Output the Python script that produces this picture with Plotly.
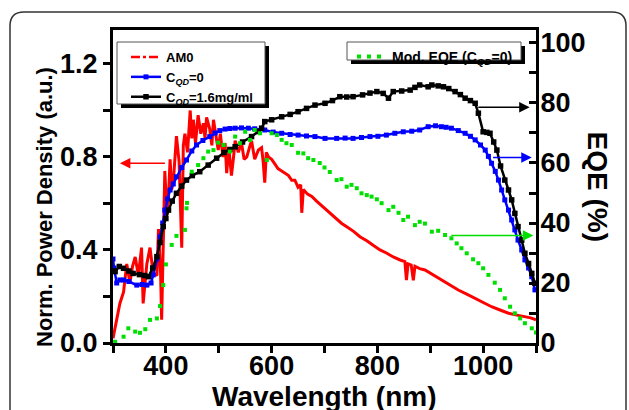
import plotly.graph_objects as go

# ---------------- data ----------------
am0_x = [300, 307, 313, 320, 326, 332, 337, 342, 348, 354, 357, 364, 370, 376, 383, 386, 390, 392, 395,
         398, 402, 405, 408, 411, 414, 417, 420, 425, 430, 433, 436, 441, 446, 449, 452, 456, 461, 466,
         471, 474, 477, 483, 487, 490, 495, 499, 503, 508, 512, 515, 519, 524, 528, 531, 537, 543, 548,
         553, 558, 562, 568, 575, 581, 584, 587, 590, 594, 600, 606, 612, 619, 625, 632, 638, 644, 650,
         655, 657, 660, 668, 676, 685, 695, 704, 713, 723, 732, 742, 755, 767, 780, 792, 805, 818, 830,
         843, 852, 855, 858, 864, 868, 871, 880, 890, 900, 921, 937, 953, 969, 985, 1000, 1016, 1032,
         1048, 1064, 1079, 1090, 1100]
am0_y = [0.02, 0.11, 0.17, 0.22, 0.34, 0.26, 0.33, 0.37, 0.29, 0.41, 0.17, 0.34, 0.41, 0.30, 0.29, 0.49,
         0.30, 0.10, 0.45, 0.74, 0.55, 0.63, 0.79, 0.66, 0.69, 0.80, 0.89, 0.78, 0.41, 0.85, 0.90, 0.82,
         1.00, 0.88, 0.96, 0.86, 0.98, 0.90, 0.945, 0.88, 0.97, 0.92, 0.85, 0.96, 0.88, 0.83, 0.90, 0.80,
         0.86, 0.73, 0.84, 0.72, 0.80, 0.87, 0.82, 0.86, 0.79, 0.80, 0.84, 0.87, 0.79, 0.83, 0.84, 0.78,
         0.69, 0.82, 0.80, 0.79, 0.77, 0.75, 0.74, 0.73, 0.72, 0.70, 0.70, 0.67, 0.68, 0.56, 0.66, 0.64,
         0.63, 0.61, 0.59, 0.57, 0.55, 0.53, 0.515, 0.50, 0.48, 0.457, 0.44, 0.42, 0.40, 0.386, 0.37,
         0.357, 0.35, 0.27, 0.34, 0.335, 0.27, 0.33, 0.32, 0.314, 0.30, 0.27, 0.25, 0.228, 0.21, 0.192,
         0.175, 0.156, 0.142, 0.128, 0.12, 0.113, 0.108, 0.10]

cqd0_x = [300, 302, 307, 313, 320, 330, 345, 355, 364, 372, 376, 383, 389, 394, 398, 403, 408, 414, 420,
          430, 439, 449, 458, 470, 483, 493, 502, 512, 521, 531, 543, 556, 568, 587, 603, 619, 635, 650,
          666, 682, 701, 723, 739, 754, 770, 786, 801, 817, 833, 849, 865, 880, 896, 910, 921, 930, 940,
          953, 966, 976, 985, 995, 1004, 1010, 1016, 1023, 1029, 1035, 1041, 1048, 1054, 1060, 1066,
          1073, 1079, 1086, 1092, 1098]
cqd0_y = [28, 25, 20, 21, 21, 20.5, 19.3, 19.5, 19.3, 20, 22.7, 28, 35.4, 40, 44.3, 48, 51, 53, 55.4,
          58.5, 61, 64, 66, 67.5, 68.8, 70, 70.8, 71.3, 71.5, 71.6, 71.7, 71.6, 71.4, 71, 70.3, 69.9,
          69.5, 69.3, 69, 68.8, 68.2, 68.2, 68.3, 68.2, 68.5, 68.8, 68.9, 69.3, 69.9, 70.4, 70.6, 71,
          72.1, 72.4, 72.1, 71.9, 71.6, 70.8, 69.9, 68.9, 67.7, 66, 64.3, 62.2, 59.9, 57.2, 54.3, 51,
          47.7, 44.3, 41, 37.7, 34.3, 31, 27.7, 25, 22.1, 17.7]

cqd16_x = [300, 304, 312, 320, 330, 338, 350, 360, 367, 375, 383, 389, 395, 400, 405, 412, 420, 430, 439,
           450, 464, 480, 496, 510, 521, 531, 545, 562, 575, 581, 587, 600, 619, 635, 650, 666, 682, 701,
           715, 729, 742, 754, 772, 786, 799, 811, 821, 830, 846, 862, 871, 880, 896, 903, 915, 925, 935,
           947, 957, 966, 976, 985, 991, 1000, 1007, 1013, 1020, 1026, 1033, 1041, 1048, 1054, 1060,
           1066, 1073, 1079, 1086, 1092, 1098]
cqd16_y = [24, 23.8, 25.5, 24.9, 24, 23.2, 22.8, 22.5, 22.1, 25, 28.8, 33.5, 38.8, 41.5, 44.3, 47.3, 49.9,
           52.3, 54.3, 55.8, 57.1, 59.3, 61.6, 63.5, 64.5, 65.4, 67, 68.8, 70.5, 71.6, 73.8, 74.4, 75.4,
           76.2, 77.1, 78.2, 79.3, 79.9, 80.8, 82.1, 82.0, 82.1, 82.7, 83.3, 83.8, 83.2, 81.6, 83.8, 84.0,
           84.3, 85.2, 86, 85.4, 86, 85.7, 85.4, 84.8, 83.8, 82.8, 81.6, 80.8, 79.9, 76.6, 70.4, 70.2,
           69.9, 67, 64.3, 59, 54.3, 51, 47.7, 43.2, 38.8, 34.3, 29.9, 26.5, 23.2, 19.9]

mod_x = [304, 320, 329, 342, 351, 361, 370, 383, 389, 395, 400, 411, 420, 436, 439, 440, 449, 461, 471,
         480, 490, 499, 509, 521, 531, 540, 550, 559, 568, 578, 591, 600, 610, 619, 628, 638, 650, 660,
         669, 679, 691, 700, 710, 723, 732, 742, 751, 761, 770, 780, 789, 799, 808, 821, 830, 840, 849,
         858, 871, 880, 890, 903, 915, 928, 940, 950, 959, 969, 981, 991, 1000, 1010, 1022, 1032, 1041,
         1051, 1060, 1070, 1079, 1092, 1100]
mod_y = [0.4, 2.1, 4.9, 3.8, 3.4, 4.6, 7.7, 8.2, 12.3, 19.3, 26.2, 32.7, 35.7, 37.7, 44.9, 46.7, 57.1,
         59.3, 61.6, 63.8, 64.3, 66.8, 66.0, 63.8, 68.8, 66.6, 70.4, 67.7, 71.0, 69.9, 61.0, 69.9, 69.3,
         67.7, 66.6, 66.0, 63.4, 63.2, 61.6, 61.0, 60.0, 58.5, 57.0, 54.3, 54.6, 52.1, 52.7, 51.6, 49.9,
         49.3, 48.8, 47.9, 46.6, 44.3, 45.4, 43.4, 41.0, 42.1, 39.3, 40.4, 39.8, 37.1, 37.4, 36.0, 34.9,
         33.2, 31.6, 29.9, 27.9, 26.6, 24.9, 22.7, 20.1, 17.7, 14.9, 12.1, 9.9, 8.2, 6.6, 4.9, 3.5]

x_ticks = [400, 600, 800, 1000]
x_minor = [300, 500, 700, 900, 1100]
y_ticks = [0.0, 0.4, 0.8, 1.2]
y_minor = [0.2, 0.6, 1.0]
y2_ticks = [0, 20, 40, 60, 80, 100]
y2_minor = [10, 30, 50, 70, 90]
top_ticks = [1, 2, 3, 4, 5, 6, 7, 8, 9]

# ---------------- geometry helpers ----------------
W, H = 629, 410
ML, MR, MT, MB = 113, 93, 30, 67
PW, PH = W - ML - MR, H - MT - MB


def px(x):
    return (x - ML) / PW


def py(y):
    return (H - MB - y) / PH


RED = "#ff0000"
BLUE = "#0000ff"
BLACK = "#000000"
GREEN = "#00e000"
FONT = "Liberation Sans, Arial, sans-serif"

fig = go.Figure()

fig.add_trace(go.Scatter(x=am0_x, y=am0_y, mode="lines", line=dict(color=RED, width=3),
                         showlegend=False, xaxis="x", yaxis="y"))
fig.add_trace(go.Scatter(x=[None], y=[None], mode="lines", name="AM0",
                         line=dict(color=RED, width=2.5, dash="dashdot"), legend="legend"))
fig.add_trace(go.Scatter(x=cqd0_x, y=cqd0_y, mode="lines+markers", name="C<sub><i>QD</i></sub>=0",
                         line=dict(color=BLUE, width=2.5), marker=dict(symbol="square", size=5, color=BLUE),
                         yaxis="y2", legend="legend"))
fig.add_trace(go.Scatter(x=cqd16_x, y=cqd16_y, mode="lines+markers", name="C<sub><i>QD</i></sub>=1.6mg/ml",
                         line=dict(color=BLACK, width=2.5), marker=dict(symbol="square", size=5.5, color=BLACK),
                         yaxis="y2", legend="legend"))
fig.add_trace(go.Scatter(x=mod_x, y=mod_y, mode="markers", marker=dict(symbol="square", size=4, color=GREEN),
                         showlegend=False, yaxis="y2"))
fig.add_trace(go.Scatter(x=[None], y=[None], mode="lines", name="Mod. EQE (C<sub><i>QD</i></sub>=0)",
                         line=dict(color=GREEN, width=4, dash="4px,6px"), yaxis="y2", legend="legend2"))

axis_common = dict(showline=True, linewidth=3, linecolor="black", ticklen=7, tickwidth=2.5,
                   tickcolor="black", showgrid=False, zeroline=False, automargin=False,
                   tickfont=dict(family=FONT, size=27, color="black", weight="bold"))

fig.update_layout(
    width=W, height=H,
    margin=dict(l=ML, r=MR, t=MT, b=MB, pad=0, autoexpand=False),
    paper_bgcolor="white", plot_bgcolor="white",
    font=dict(family=FONT, color="black", weight="bold"),
    xaxis=dict(range=[300, 1100], tickvals=x_ticks, ticks="outside", mirror=True, ticklabelstandoff=-10,
               minor=dict(tickvals=x_minor, ticks="outside", ticklen=7, tickwidth=2.5, tickcolor="black"),
               **axis_common),
    xaxis2=dict(range=[0, 9.95], overlaying="x", side="top", anchor="y", tickvals=top_ticks,
                ticks="inside", ticklen=6, tickwidth=2.5, tickcolor="black", showticklabels=False,
                showline=False, showgrid=False, zeroline=False, automargin=False),
    yaxis=dict(range=[0, 1.346], tickvals=y_ticks, tickformat=".1f", ticks="outside",
               minor=dict(tickvals=y_minor, ticks="outside", ticklen=7, tickwidth=2.5, tickcolor="black"),
               **axis_common),
    yaxis2=dict(range=[0, 104.33], overlaying="y", side="right", anchor="x", tickvals=y2_ticks,
                ticks="inside", ticklabelstandoff=-4,
                minor=dict(tickvals=y2_minor, ticks="inside", ticklen=7, tickwidth=2.5, tickcolor="black"),
                **axis_common),
    legend=dict(x=px(126), y=py(42), xanchor="left", yanchor="top", bgcolor="rgba(0,0,0,0)",
                borderwidth=0, font=dict(family=FONT, size=13, weight="bold"), tracegroupgap=0,
                itemwidth=30),
    legend2=dict(x=px(352), y=py(41), xanchor="left", yanchor="top", bgcolor="rgba(0,0,0,0)",
                 borderwidth=0, font=dict(family=FONT, size=14, weight="bold"), itemwidth=30),
)

shapes = []
r = 14
x0, x1, y0, y1 = px(10), px(626), py(12), py(425)
rx, ry = r / PW, r / PH
path = (f"M {x0},{y1} L {x0},{y0 - ry} Q {x0},{y0} {x0 + rx},{y0} "
        f"L {x1 - rx},{y0} Q {x1},{y0} {x1},{y0 - ry} L {x1},{y1}")
shapes.append(dict(type="path", path=path, xref="paper", yref="paper",
                   line=dict(color="#333333", width=1.5), layer="above"))
for (lx0, ly0, lx1, ly1) in [(117, 42, 265, 104), (347, 42, 521, 60)]:
    shapes.append(dict(type="rect", xref="paper", yref="paper", x0=px(lx0 + 4), x1=px(lx1 + 4),
                       y0=py(ly1 + 4), y1=py(ly0 + 4), fillcolor="black", line=dict(width=0), layer="above"))
    shapes.append(dict(type="rect", xref="paper", yref="paper", x0=px(lx0), x1=px(lx1),
                       y0=py(ly1), y1=py(ly0), fillcolor="white", line=dict(color="#555555", width=1),
                       layer="above"))
fig.update_layout(shapes=shapes)

arrows = [
    dict(x=313, y=0.773, ax=401, ay=0.773, yref="y", ayref="y", color=RED),
    dict(x=1088, y=78.6, ax=988, ay=78.6, yref="y2", ayref="y2", color=BLACK),
    dict(x=1092, y=61.8, ax=1016, ay=61.8, yref="y2", ayref="y2", color=BLUE),
    dict(x=1095, y=35.8, ax=937, ay=35.8, yref="y2", ayref="y2", color=GREEN),
]
for a in arrows:
    fig.add_annotation(x=a["x"], y=a["y"], ax=a["ax"], ay=a["ay"], xref="x", yref=a["yref"],
                       axref="x", ayref=a["ayref"], text="", showarrow=True, arrowhead=2,
                       arrowsize=1.4, arrowwidth=1.5, arrowcolor=a["color"])

# axis titles
fig.add_annotation(text="Wavelength (nm)", x=0.5, y=py(379), xref="paper", yref="paper", showarrow=False,
                   font=dict(family=FONT, size=28, color="black", weight="bold"),
                   xanchor="center", yanchor="top")
fig.add_annotation(text="Norm. Power Density (a.u.)", x=px(44), y=py(207), xref="paper", yref="paper",
                   showarrow=False, textangle=-90, font=dict(family=FONT, size=22, color="black", weight="bold"),
                   xanchor="center", yanchor="middle")
fig.add_annotation(text="EQE (%)", x=px(597), y=0.5, xref="paper", yref="paper", showarrow=False,
                   textangle=90, font=dict(family=FONT, size=28, color="black", weight="bold"),
                   xanchor="center", yanchor="middle")

fig.write_html("out.html", config={"displayModeBar": False})

# remove the default page margin so the figure sits at the window's top-left corner
with open("out.html", "r", encoding="utf-8") as f:
    html = f.read()
html = html.replace("<head>", "<head><style>html,body{margin:0;padding:0;overflow:hidden;}</style>", 1)
with open("out.html", "w", encoding="utf-8") as f:
    f.write(html)
